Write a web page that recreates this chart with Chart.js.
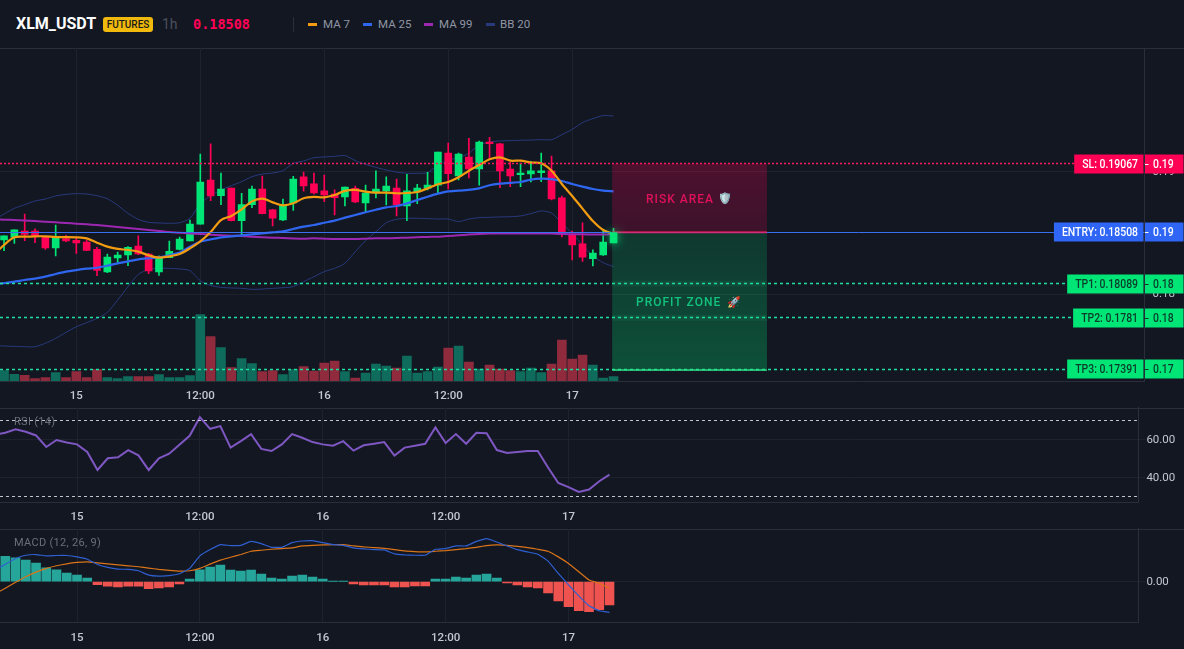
<!DOCTYPE html>
<html>
<head>
<meta charset="utf-8">
<title>XLM_USDT</title>
<script src="https://cdn.jsdelivr.net/npm/chart.js@4/dist/chart.umd.min.js"></script>
<style>
    html, body { margin: 0; padding: 0; width: 1184px; height: 649px; overflow: hidden; background: #131722; }
    body { position: relative; font-family: Roboto, sans-serif; }
    canvas { position: absolute; left: 0; }
    .head { position: absolute; white-space: nowrap; line-height: 16px; }
    .swatch { position: absolute; top: 23px; width: 9px; height: 3px; }
    .legend-text { top: 16px; font-size: 11.5px; color: #9096a3; }
    .pane-title { position: absolute; left: 14px; font-size: 11px; line-height: 14px; letter-spacing: 0.3px; color: #6a6f7c; }
</style>
</head>
<body>
    <div class="head" style="left:16px;top:16px;font-size:16px;font-weight:700;color:#fff;">XLM_USDT</div>
    <div class="head" style="left:103px;top:17px;width:50px;height:15px;line-height:15px;text-align:center;font-size:10px;font-weight:500;color:#1a1a1a;background:#f0b90b;border-radius:3px;">FUTURES</div>
    <div class="head" style="left:162px;top:16px;font-size:14px;color:#4b505c;">1h</div>
    <div class="head" style="left:193px;top:16px;font-size:13.5px;font-weight:700;font-family:'DejaVu Sans Mono',monospace;color:#ff0055;">0.18508</div>
    <div style="position:absolute;left:293px;top:17px;width:1px;height:15px;background:#2a2e39;"></div>
    <div class="swatch" style="left:308px;background:#f39c12;"></div>
    <div class="head legend-text" style="left:323px;">MA 7</div>
    <div class="swatch" style="left:363px;background:#2f66f0;"></div>
    <div class="head legend-text" style="left:378px;">MA 25</div>
    <div class="swatch" style="left:424px;background:#9c27b0;"></div>
    <div class="head legend-text" style="left:439px;">MA 99</div>
    <div class="swatch" style="left:486px;background:#283a7c;"></div>
    <div class="head legend-text" style="left:500px;">BB 20</div>

    <canvas id="priceChart" width="1184" height="365" style="top:40px;"></canvas>
    <canvas id="rsiChart" width="1184" height="130" style="top:400px;"></canvas>
    <canvas id="macdChart" width="1184" height="128" style="top:521px;"></canvas>

    <div class="pane-title" style="top:415px;">RSI (14)</div>
    <div class="pane-title" style="top:536px;">MACD (12, 26, 9)</div>

<script>
// Time axis
const tickPositions = [7, 19, 31, 43, 55];
const tickLabels = ['15', '12:00', '16', '12:00', '17'];

// Candles, 1h
const openValues = [
    0.18445, 0.18469, 0.18518, 0.18518, 0.18467, 0.18380, 0.18456, 0.18442, 0.18429, 0.18369,
    0.18184, 0.18298, 0.18323, 0.18396, 0.18331, 0.18184, 0.18301, 0.18369, 0.18437, 0.18575,
    0.18934, 0.18806, 0.18869, 0.18603, 0.18733, 0.18861, 0.18690, 0.18608, 0.18747, 0.18959,
    0.18902, 0.18845, 0.18820, 0.18796, 0.18866, 0.18747, 0.18828, 0.18845, 0.18869, 0.18722,
    0.18836, 0.18866, 0.18893, 0.19154, 0.18967, 0.19122, 0.19024, 0.19244, 0.19228, 0.19024,
    0.18978, 0.18983, 0.18994, 0.19008, 0.18788, 0.18494, 0.18413, 0.18293, 0.18323, 0.18421
];
const highValues = [
    0.18480, 0.18527, 0.18657, 0.18537, 0.18472, 0.18567, 0.18483, 0.18467, 0.18445, 0.18385,
    0.18331, 0.18347, 0.18391, 0.18478, 0.18336, 0.18315, 0.18437, 0.18469, 0.18608, 0.19146,
    0.19228, 0.18991, 0.18869, 0.18825, 0.18885, 0.18967, 0.18695, 0.18779, 0.18964, 0.18999,
    0.18991, 0.18975, 0.18853, 0.18877, 0.18885, 0.18893, 0.19008, 0.18959, 0.18942, 0.18980,
    0.18899, 0.18997, 0.19162, 0.19236, 0.19154, 0.19274, 0.19252, 0.19282, 0.19233, 0.19081,
    0.19070, 0.19086, 0.19154, 0.19130, 0.18804, 0.18518, 0.18584, 0.18364, 0.18518, 0.18540
];
const lowValues = [
    0.18358, 0.18418, 0.18440, 0.18423, 0.18369, 0.18315, 0.18431, 0.18336, 0.18358, 0.18154,
    0.18179, 0.18260, 0.18236, 0.18325, 0.18171, 0.18157, 0.18301, 0.18364, 0.18437, 0.18575,
    0.18766, 0.18733, 0.18600, 0.18486, 0.18709, 0.18657, 0.18559, 0.18603, 0.18687, 0.18844,
    0.18820, 0.18758, 0.18649, 0.18722, 0.18749, 0.18673, 0.18788, 0.18730, 0.18641, 0.18603,
    0.18741, 0.18853, 0.18826, 0.18861, 0.18934, 0.18951, 0.18893, 0.19111, 0.18872, 0.18880,
    0.18880, 0.18918, 0.18921, 0.18771, 0.18470, 0.18282, 0.18271, 0.18233, 0.18320, 0.18421
];
const closeValues = [
    0.18480, 0.18527, 0.18491, 0.18480, 0.18380, 0.18467, 0.18437, 0.18421, 0.18361, 0.18198,
    0.18306, 0.18323, 0.18385, 0.18331, 0.18192, 0.18296, 0.18353, 0.18453, 0.18575, 0.18918,
    0.18804, 0.18861, 0.18603, 0.18733, 0.18861, 0.18660, 0.18624, 0.18730, 0.18942, 0.18885,
    0.18828, 0.18812, 0.18790, 0.18877, 0.18755, 0.18828, 0.18861, 0.18885, 0.18733, 0.18845,
    0.18869, 0.18893, 0.19162, 0.18986, 0.19146, 0.19024, 0.19244, 0.19230, 0.19008, 0.18967,
    0.18991, 0.19008, 0.19008, 0.18779, 0.18510, 0.18404, 0.18306, 0.18339, 0.18429, 0.18508
];
const volumeValues = [
    10.3, 6.7, 5.7, 2.3, 3.3, 8.3, 3.3, 9.3, 3.3, 11.3,
    3.3, 2.3, 4.3, 4.3, 4.3, 6.3, 3.3, 3.3, 5.3, 66.3,
    44.3, 33.3, 13.3, 22.3, 17.3, 9.3, 10.3, 6.3, 11.3, 14.3,
    10, 18, 20, 9.3, 3, 8, 17, 15, 13, 25,
    8, 9.3, 14, 33, 35, 19, 12, 16, 12, 10.3,
    9.3, 13, 8.3, 17, 41, 22, 26, 16, 3, 4.3
];

// Indicator lines carry one extra leading value, for the hour before the first candle
const ma7Values = [
    0.18323,
    0.18404, 0.18467, 0.18472, 0.18475, 0.18475, 0.18469, 0.18469, 0.18467, 0.18458, 0.18423,
    0.18391, 0.18372, 0.18364, 0.18350, 0.18320, 0.18301, 0.18312, 0.18331, 0.18377, 0.18434,
    0.18510, 0.18608, 0.18641, 0.18695, 0.18760, 0.18782, 0.18752, 0.18728, 0.18744, 0.18785,
    0.18796, 0.18793, 0.18812, 0.18845, 0.18853, 0.18839, 0.18831, 0.18831, 0.18826, 0.18828,
    0.18836, 0.18866, 0.18899, 0.18918, 0.18956, 0.19010, 0.19056, 0.19103, 0.19119, 0.19092,
    0.19092, 0.19076, 0.19070, 0.19010, 0.18902, 0.18804, 0.18701, 0.18600, 0.18527, 0.18494
];
const ma25Values = [
    0.18083,
    0.18094, 0.18105, 0.18119, 0.18130, 0.18146, 0.18168, 0.18187, 0.18200, 0.18211, 0.18219,
    0.18236, 0.18255, 0.18271, 0.18287, 0.18296, 0.18304, 0.18320, 0.18342, 0.18391, 0.18431,
    0.18450, 0.18467, 0.18475, 0.18483, 0.18491, 0.18499, 0.18507, 0.18516, 0.18535, 0.18554,
    0.18567, 0.18586, 0.18603, 0.18627, 0.18649, 0.18671, 0.18692, 0.18711, 0.18722, 0.18744,
    0.18771, 0.18798, 0.18823, 0.18842, 0.18847, 0.18853, 0.18866, 0.18891, 0.18904, 0.18910,
    0.18918, 0.18937, 0.18945, 0.18942, 0.18926, 0.18902, 0.18880, 0.18861, 0.18847, 0.18842
];
const ma99Values = [
    0.18614,
    0.18611, 0.18608, 0.18603, 0.18600, 0.18594, 0.18589, 0.18584, 0.18578, 0.18573, 0.18567,
    0.18559, 0.18551, 0.18543, 0.18535, 0.18527, 0.18518, 0.18510, 0.18505, 0.18499, 0.18494,
    0.18488, 0.18483, 0.18480, 0.18478, 0.18472, 0.18467, 0.18464, 0.18461, 0.18458, 0.18456,
    0.18459, 0.18456, 0.18453, 0.18453, 0.18453, 0.18456, 0.18459, 0.18459, 0.18461, 0.18464,
    0.18467, 0.18470, 0.18472, 0.18478, 0.18483, 0.18489, 0.18494, 0.18497, 0.18497, 0.18497,
    0.18497, 0.18497, 0.18497, 0.18497, 0.18494, 0.18491, 0.18491, 0.18489, 0.18489, 0.18489
];
const bbUpperValues = [
    0.18608,
    0.18657, 0.18703, 0.18733, 0.18763, 0.18779, 0.18804, 0.18817, 0.18823, 0.18820, 0.18806,
    0.18782, 0.18728, 0.18662, 0.18613, 0.18589, 0.18584, 0.18581, 0.18586, 0.18622, 0.18744,
    0.18804, 0.18853, 0.18888, 0.18921, 0.18961, 0.18983, 0.18991, 0.19010, 0.19070, 0.19089,
    0.19116, 0.19122, 0.19127, 0.19133, 0.19092, 0.19062, 0.19037, 0.19016, 0.18999, 0.18989,
    0.18989, 0.18994, 0.19056, 0.19097, 0.19116, 0.19152, 0.19220, 0.19244, 0.19252, 0.19255,
    0.19258, 0.19260, 0.19263, 0.19263, 0.19304, 0.19347, 0.19402, 0.19434, 0.19459, 0.19456
];
const bbLowerValues = [
    0.17584,
    0.17581, 0.17578, 0.17575, 0.17575, 0.17603, 0.17643, 0.17692, 0.17738, 0.17771, 0.17806,
    0.17855, 0.17956, 0.18065, 0.18165, 0.18206, 0.18214, 0.18214, 0.18209, 0.18195, 0.18113,
    0.18075, 0.18059, 0.18054, 0.18051, 0.18043, 0.18045, 0.18051, 0.18056, 0.18065, 0.18105,
    0.18146, 0.18187, 0.18214, 0.18255, 0.18350, 0.18440, 0.18513, 0.18586, 0.18614, 0.18622,
    0.18622, 0.18619, 0.18616, 0.18616, 0.18595, 0.18616, 0.18627, 0.18630, 0.18633, 0.18635,
    0.18641, 0.18660, 0.18682, 0.18665, 0.18581, 0.18499, 0.18404, 0.18315, 0.18260, 0.18228
];

// RSI (14)
const rsiValues = [
    62.7,
    63.7, 65.5, 64.2, 62.3, 56.2, 59.9, 58.6, 57.6, 53.6, 44.1,
    50.3, 50.8, 54.6, 51.8, 44.1, 50.3, 52.7, 57.4, 62.1, 71.9,
    65.8, 67.2, 55.9, 59.3, 63.0, 55.2, 54.1, 57.6, 63.0, 61.1,
    58.8, 57.6, 56.9, 59.3, 54.3, 57.1, 57.9, 58.8, 51.7, 55.9,
    56.9, 57.9, 66.5, 58.3, 63.0, 57.9, 63.7, 63.5, 54.6, 53.1,
    53.6, 54.1, 54.1, 45.4, 37.3, 35.1, 32.6, 33.8, 38.2, 41.7
];
const rsiBands = [70, 30];
const rsiTicks = [40, 60];

// MACD (12, 26, 9), in 1e-5 of price
const macdHistValues = [
    51.3, 48, 43.3, 37.3, 28, 24, 17.3, 13.3, 7.3, -6,
    -9.3, -10.7, -9.3, -9.3, -14, -12.7, -10.7, -4.7, 5.3, 24,
    29.3, 33.3, 23.3, 21.3, 23.3, 15.3, 7.3, 5.3, 11.3, 13.3,
    9.3, 5.3, 0.7, 0.7, -4.7, -6.7, -6.7, -6.7, -10.7, -10.7,
    -8.7, -8.7, 5.3, 5.3, 9.3, 7.3, 13.3, 15.3, 7.3, -2.7,
    -6.7, -10.7, -12.7, -22.7, -38.7, -50.7, -58.7, -60.7, -56.7, -46.7
];
const macdLineValues = [
    23.3,
    35.3, 46.7, 53.3, 54.7, 52, 52.7, 52.7, 50, 45.3, 34.7,
    28.7, 25.3, 24.7, 22, 13.3, 11.3, 12, 16, 26.7, 52,
    64.7, 74.7, 72.7, 73.3, 81.3, 76.7, 69.3, 69.3, 78.7, 82,
    82.7, 78.7, 74.7, 73.3, 68, 66, 64.7, 64, 56, 54,
    53.3, 53.3, 65.3, 66.7, 72, 72, 81.3, 86.7, 80, 72,
    64.7, 60, 55.3, 41.3, 16.7, -6.7, -28.7, -48.7, -58.7, -62
];
const macdSignalValues = [
    -24.7,
    -13.3, -1.3, 10, 19.3, 26.7, 32, 36, 38.7, 40, 38,
    36, 34, 32, 30, 27.3, 24.7, 22.7, 21.3, 22, 26.7,
    35.3, 43.3, 49.3, 54.7, 61.3, 63.3, 65.3, 66.7, 68, 72,
    73.3, 74, 74.7, 74.7, 72, 70, 68.7, 67.3, 64.7, 62,
    60.7, 60, 61.3, 62.7, 64.7, 66.7, 69.3, 72.7, 74, 73.3,
    71.3, 68.7, 65.3, 61.3, 50, 36.7, 20, 3.3, -3.3, -13.3
];

// Trade levels
const slPrice = 0.19067;
const entryPrice = 0.18508;
const tpPrices = [0.18089, 0.1781, 0.17391];
const tpNames = ['TP1', 'TP2', 'TP3'];
const priceTicks = [0.18, 0.19];
const zoneStart = 58.87;
const zoneEnd = 73.85;

// Colours
const UP = '#00e676';
const DOWN = '#ff0055';
const GRID = '#1e222d';
const BORDER = '#2a2e39';
const TEXT = '#c3c7d0';

// --- 1. Shared helpers ---
function points(values) {
    return values.map((v, i) => ({ x: i, y: v }));
}

function lineSet(values, color, width, tension, order) {
    return {
        type: 'line',
        data: values.map((v, i) => ({ x: i - 1, y: v })),
        borderColor: color,
        borderWidth: width,
        pointRadius: 0,
        tension: tension,
        order: order
    };
}

function xAxis(min, max, height) {
    return {
        type: 'linear',
        min: min,
        max: max,
        offset: false,
        afterBuildTicks: scale => { scale.ticks = tickPositions.map(v => ({ value: v })); },
        afterFit: scale => { scale.height = height; },
        grid: { color: GRID, drawTicks: false, offset: false },
        border: { color: BORDER },
        ticks: {
            autoSkip: false,
            maxRotation: 0,
            padding: 8,
            color: TEXT,
            font: { family: 'Roboto', size: 11.5, weight: '500' },
            callback: (value, index) => tickLabels[index]
        }
    };
}

function yAxis(min, max, width, tickValues, digits) {
    return {
        position: 'right',
        min: min,
        max: max,
        afterBuildTicks: scale => { scale.ticks = tickValues.map(v => ({ value: v })); },
        afterFit: scale => { scale.width = width; },
        grid: { color: GRID, tickLength: 7 },
        border: { color: BORDER },
        ticks: {
            padding: 1,
            color: TEXT,
            font: { family: 'Roboto', size: 11.5 },
            callback: value => value.toFixed(digits)
        }
    };
}

function baseOptions(scales, top) {
    return {
        responsive: false,
        animation: false,
        events: [],
        layout: { padding: { top: top } },
        plugins: { legend: { display: false }, tooltip: { enabled: false } },
        scales: scales
    };
}

// Separator running over the full page width at the top of each pane
const paneLine = {
    id: 'paneLine',
    beforeDraw(chart) {
        const ctx = chart.ctx;
        ctx.save();
        ctx.strokeStyle = BORDER;
        ctx.lineWidth = 1;
        ctx.beginPath();
        ctx.moveTo(0, Math.round(chart.chartArea.top) + 0.5);
        ctx.lineTo(chart.width, Math.round(chart.chartArea.top) + 0.5);
        ctx.stroke();
        ctx.restore();
    }
};

function hLine(chart, y, color, dash, width) {
    const ctx = chart.ctx;
    ctx.save();
    ctx.strokeStyle = color;
    ctx.lineWidth = width;
    ctx.setLineDash(dash);
    ctx.beginPath();
    ctx.moveTo(chart.chartArea.left, Math.floor(y) + 0.5);
    ctx.lineTo(chart.chartArea.right, Math.floor(y) + 0.5);
    ctx.stroke();
    ctx.restore();
}

// --- 2. Trade levels, zones and price tags ---
function drawZone(chart, fromPrice, toPrice, topColor, bottomColor) {
    const ctx = chart.ctx;
    const x0 = chart.scales.x.getPixelForValue(zoneStart);
    const x1 = chart.scales.x.getPixelForValue(zoneEnd);
    const y0 = chart.scales.y.getPixelForValue(fromPrice);
    const y1 = chart.scales.y.getPixelForValue(toPrice);
    const fill = ctx.createLinearGradient(0, y0, 0, y1);
    fill.addColorStop(0, topColor);
    fill.addColorStop(1, bottomColor);
    ctx.fillStyle = fill;
    ctx.fillRect(x0, y0, x1 - x0, y1 - y0);
}

function drawZoneText(ctx, text, icon, color, x, y, iconX) {
    ctx.save();
    ctx.textAlign = 'left';
    ctx.textBaseline = 'middle';
    ctx.fillStyle = color;
    ctx.font = '500 12px Roboto, sans-serif';
    ctx.letterSpacing = '1px';
    ctx.fillText(text, x, y);
    ctx.letterSpacing = '0px';
    ctx.font = '11px Roboto, sans-serif';
    ctx.fillText(icon, iconX, y);
    ctx.restore();
}

// Tag text is set narrow so it fits the tag widths
const TAG_NARROW = 0.87;

function narrowText(ctx, text, x, y, align) {
    ctx.save();
    ctx.translate(x, y);
    ctx.scale(TAG_NARROW, 1);
    ctx.textAlign = align;
    ctx.fillText(text, 0, 0);
    ctx.restore();
}

function drawTag(chart, y, text, axisText, fill, color) {
    const ctx = chart.ctx;
    const right = chart.chartArea.right;
    ctx.save();
    ctx.font = '500 12px Roboto, sans-serif';
    const left = right - 6.5 - ctx.measureText(text).width * TAG_NARROW - 8;
    const top = Math.round(y) - 9.5;
    ctx.fillStyle = fill;
    ctx.fillRect(left, top, right - 1 - left, 19);
    ctx.fillRect(right + 0.5, top, chart.width - 1 - right, 19);
    ctx.fillStyle = color;
    ctx.textBaseline = 'middle';
    narrowText(ctx, text, right - 6.5, top + 10, 'right');
    narrowText(ctx, axisText, right + 8.5, top + 10, 'left');
    ctx.fillRect(right + 0.5, top + 9.5, 3.5, 1);
    ctx.restore();
}

const tradeLevels = {
    id: 'tradeLevels',
    afterDatasetsDraw(chart) {
        const ctx = chart.ctx;
        const y = chart.scales.y;

        hLine(chart, y.getPixelForValue(slPrice), '#ff1a5e', [2, 2], 1.5);
        hLine(chart, y.getPixelForValue(entryPrice), '#3a6ff0', [], 1);
        tpPrices.forEach(p => hLine(chart, y.getPixelForValue(p), '#1fe0a0', [3, 3], 1.5));

        ctx.save();
        drawZone(chart, slPrice, entryPrice, 'rgba(255,0,85,0.25)', 'rgba(255,0,85,0.18)');
        drawZone(chart, entryPrice, tpPrices[2], 'rgba(0,230,118,0.16)', 'rgba(0,230,118,0.28)');

        // Level lines only show as soft bands under the zones
        const x0 = chart.scales.x.getPixelForValue(zoneStart);
        const x1 = chart.scales.x.getPixelForValue(zoneEnd);
        ctx.fillStyle = 'rgba(53,224,168,0.07)';
        tpPrices.slice(0, 2).forEach(p => ctx.fillRect(x0, y.getPixelForValue(p) - 3, x1 - x0, 6));
        ctx.fillStyle = 'rgba(255,26,94,0.75)';
        ctx.fillRect(x0, y.getPixelForValue(entryPrice) - 1, x1 - x0, 2);
        ctx.fillStyle = '#2ee68a';
        ctx.fillRect(x0, y.getPixelForValue(tpPrices[2]), x1 - x0, 1.5);

        // Last candle glow
        const bodies = chart.getDatasetMeta(1).data;
        const last = bodies[bodies.length - 1];
        const bodyTop = y.getPixelForValue(closeValues[59]);
        ctx.shadowColor = UP;
        ctx.shadowBlur = 10;
        ctx.fillStyle = UP;
        ctx.fillRect(last.x - 3.5, bodyTop, 7, y.getPixelForValue(openValues[59]) - bodyTop);
        ctx.restore();

        drawZoneText(ctx, 'RISK AREA', '🛡️', '#e0105a', 646, y.getPixelForValue(slPrice) + 36, 718);
        drawZoneText(ctx, 'PROFIT ZONE', '🚀', '#12c27e', 636, y.getPixelForValue(entryPrice) + 71, 727);
    },
    afterDraw(chart) {
        const y = chart.scales.y;
        drawTag(chart, y.getPixelForValue(slPrice), 'SL: ' + slPrice, slPrice.toFixed(2), DOWN, '#fff');
        drawTag(chart, y.getPixelForValue(entryPrice), 'ENTRY: ' + entryPrice, entryPrice.toFixed(2), '#2f66f5', '#fff');
        tpPrices.forEach((p, i) => {
            drawTag(chart, y.getPixelForValue(p), tpNames[i] + ': ' + p, p.toFixed(2), UP, '#0b3b2a');
        });
    }
};

// --- 3. Price pane ---
function renderPriceChart() {
    const candleColors = closeValues.map((c, i) => (c >= openValues[i] ? UP : DOWN));
    const volumeColors = closeValues.map((c, i) => (c >= openValues[i] ? '#0f6b5c' : '#8f2b3c'));

    const wicks = lowValues.map((l, i) => ({ x: i, y: [l, highValues[i]] }));
    const bodies = openValues.map((o, i) => ({ x: i, y: [o, closeValues[i]] }));

    new Chart(document.getElementById('priceChart'), {
        type: 'bar',
        data: {
            datasets: [
                { data: wicks, backgroundColor: candleColors, barThickness: 1, grouped: false, order: 6 },
                { data: bodies, backgroundColor: candleColors, barThickness: 7, grouped: false, order: 5 },
                { data: points(volumeValues), yAxisID: 'vol', backgroundColor: volumeColors, barThickness: 9, grouped: false, order: 9 },
                lineSet(bbUpperValues, '#283a7c', 1, 0.25, 8),
                lineSet(bbLowerValues, '#283a7c', 1, 0.25, 7),
                lineSet(ma99Values, '#9c27b0', 2, 0.2, 3),
                lineSet(ma25Values, '#2f66f0', 2.2, 0.2, 2),
                lineSet(ma7Values, '#f39c12', 2.2, 0.3, 1)
            ]
        },
        options: baseOptions({
            x: xAxis(-0.39, 110.4, 24),
            y: yAxis(0.172956, 0.200102, 39.5, priceTicks, 2),
            vol: { display: false, min: 0, max: 333 }
        }, 8),
        plugins: [paneLine, tradeLevels]
    });
}

// --- 4. RSI pane ---
function renderRsiChart() {
    const rsiGuides = {
        id: 'rsiGuides',
        afterDatasetsDraw(chart) {
            rsiBands.forEach(v => {
                hLine(chart, chart.scales.y.getPixelForValue(v), 'rgba(255,255,255,0.75)', [3, 3], 1);
            });
        }
    };

    new Chart(document.getElementById('rsiChart'), {
        type: 'line',
        data: { datasets: [lineSet(rsiValues, '#7e57c2', 2, 0, 1)] },
        options: baseOptions({
            x: xAxis(-0.52, 110.65, 27.5),
            y: yAxis(27, 76.8, 45.6, rsiTicks, 2)
        }, 7.3),
        plugins: [paneLine, rsiGuides]
    });
}

// --- 5. MACD pane ---
function renderMacdChart() {
    const histColors = macdHistValues.map(v => (v >= 0 ? '#26a69a' : '#ef5350'));

    new Chart(document.getElementById('macdChart'), {
        type: 'bar',
        data: {
            datasets: [
                { data: points(macdHistValues), backgroundColor: histColors, barThickness: 9, grouped: false, order: 3 },
                lineSet(macdSignalValues, '#d9741a', 1.2, 0.1, 2),
                lineSet(macdLineValues, '#2f5fd0', 1.2, 0.1, 1)
            ]
        },
        options: baseOptions({
            x: xAxis(-0.52, 110.65, 26.2),
            y: yAxis(-83, 106.4, 45.6, [0], 2)
        }, 7.3),
        plugins: [paneLine]
    });
}

renderPriceChart();
renderRsiChart();
renderMacdChart();
</script>
</body>
</html>
